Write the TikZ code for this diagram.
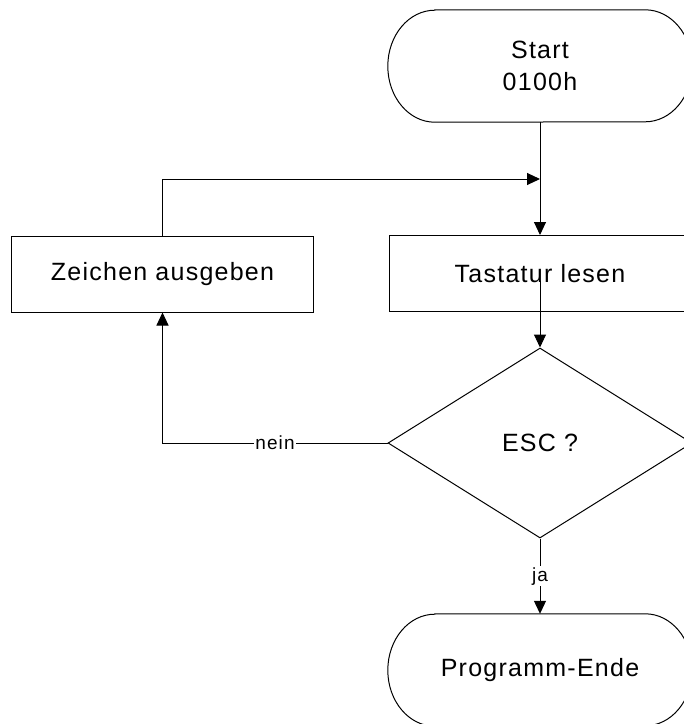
\documentclass[tikz,border=0pt]{standalone}
\usepackage{fontspec}
\setmainfont{Liberation Sans}[LetterSpace=5]
\newfontfamily\labfont{Liberation Sans}[LetterSpace=6]
\usetikzlibrary{shapes.geometric,arrows.meta}
\tikzset{
  lw/.style={line width=1pt},
  arr/.style={lw,-{Triangle[length=13pt,width=12pt]}},
  proc/.style={draw,lw,rectangle,minimum width=302pt,minimum height=76pt,inner sep=0pt,
    font=\fontsize{25}{32}\selectfont},
  term/.style={rectangle,minimum width=304pt,minimum height=112pt,inner sep=0pt,align=center,
    font=\fontsize{25}{32}\selectfont},
  dec/.style={draw,lw,diamond,minimum width=304pt,minimum height=190pt,inner sep=0pt,
    font=\fontsize{25}{32}\selectfont},
  lab/.style={fill=white,inner sep=1pt,font=\labfont\fontsize{19}{22}\selectfont},
}
\newcommand{\termshape}[1]{%
  \draw[lw] ([xshift=47pt]#1.north west) -- ([xshift=-47pt]#1.north east)
    arc[start angle=90,end angle=-90,x radius=47pt,y radius=56pt]
    -- ([xshift=47pt]#1.south west)
    arc[start angle=270,end angle=90,x radius=47pt,y radius=56pt] -- cycle;}
\begin{document}
\begin{tikzpicture}[x=1pt,y=1pt]
\useasboundingbox (0,0) rectangle (684,-724);
\clip (0,0) rectangle (684,-724);
\fill[white] (0,0) rectangle (684,-724);
% nodes
\node[term] (start) at (540,-66) {Start\\0100h};
\termshape{start}
\node[proc] (tast) at (540,-273.5) {Tastatur lesen};
\node[proc] (zeich) at (162.5,-274) {Zeichen ausgeben};
\node[dec] (esc) at (540,-443) {ESC ?};
\node[term] (ende) at (540,-670) {Programm-Ende};
\termshape{ende}
\coordinate (merge) at (540,-179);
% connectors
\draw[arr] (start.south) -- (tast.north);
\draw[arr] (zeich.north) |- (merge);
\draw[arr] ([yshift=-7pt]tast.center) -- (esc.north);
\draw[arr] (esc.west) -| node[lab,pos=0.25] {nein} (zeich.south);
\draw[arr] (esc.south) -- node[lab,pos=0.5] {ja} (ende.north);
\end{tikzpicture}
\end{document}
